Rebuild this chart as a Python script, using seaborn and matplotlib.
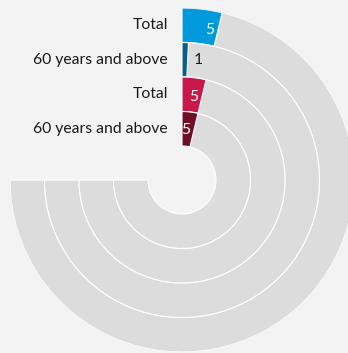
import numpy as np
import matplotlib
matplotlib.use("Agg")
import matplotlib.pyplot as plt
import seaborn as sns

# rings from outside to inside
labels = ["Total", "60 years and above", "Total", "60 years and above"]
values = [5, 1, 5, 5]
colors = ["#0099dc", "#0a5f8a", "#c8174b", "#6e0f25"]
max_value = 100

sns.set_theme(style="white")
plt.rcParams["font.family"] = ["Lato", "DejaVu Sans"]

bg = "#f3f3f3"
track = "#dcdcdc"
span = 1.5 * np.pi  # 270 degrees
hole = 34
ring_w = 34.5

fig = plt.figure(figsize=(3.48, 3.53), dpi=100, facecolor=bg)
ax = fig.add_axes([10 / 348, 1 / 353, 344 / 348, 344 / 353], projection="polar")
ax.set_facecolor(bg)
ax.set_theta_zero_location("N")
ax.set_theta_direction(-1)
ax.set_ylim(0, hole + 4 * ring_w)
ax.axis("off")

for i, (lab, val, col) in enumerate(zip(labels, values, colors)):
    r0 = hole + (3 - i) * ring_w
    mid = r0 + ring_w / 2
    # grey track
    ax.bar(span / 2, ring_w, width=span, bottom=r0, color=track,
           edgecolor="white", linewidth=0.8, align="center")
    ang = val / max_value * span
    ax.bar(ang / 2, ring_w, width=ang, bottom=r0, color=col,
           edgecolor="white", linewidth=0.8, align="center")
    ax.annotate(lab, xy=(0, mid), xytext=(-10, 0), textcoords="offset points",
                ha="right", va="center", fontsize=11.3, color="#1a1a1a")
    if val >= 3:
        ax.annotate(f"{val}", xy=(ang, mid), xytext=(-3, 0), textcoords="offset points",
                    ha="right", va="center", fontsize=11.3, color="white")
    else:
        ax.annotate(f"{val}", xy=(ang, mid), xytext=(4, 0), textcoords="offset points",
                    ha="left", va="center", fontsize=11.3, color="#1a1a1a")

fig.savefig("out.png", dpi=100, facecolor=bg)
